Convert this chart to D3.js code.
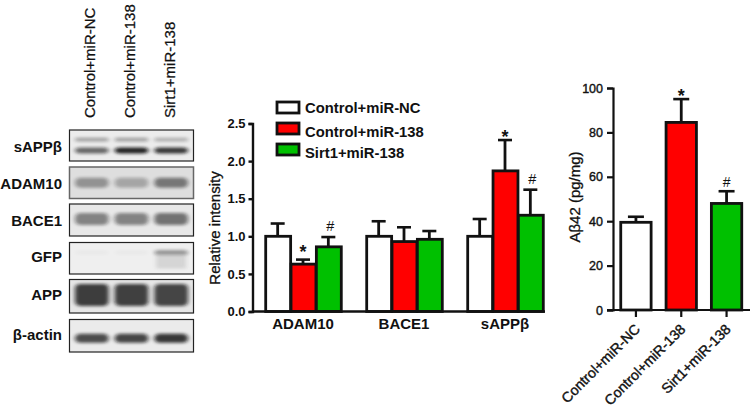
<!DOCTYPE html>
<html><head><meta charset="utf-8">
<script src="https://cdn.jsdelivr.net/npm/d3@7"></script>
<style>html,body{margin:0;padding:0;background:#fff}svg{display:block}text{font-family:"Liberation Sans",Arial,sans-serif;fill:#111}</style>
</head><body><svg id="c" width="752" height="412"></svg>
<script>
const series = ["Control+miR-NC","Control+miR-138","Sirt1+miR-138"];
const seriesColors = ["#ffffff","#ff0000","#00c000"];
const groups = ["ADAM10","BACE1","sAPPβ"];
const adam10Mean = [1.0,0.63,0.86], adam10Top = [1.17,0.69,0.99];
const bace1Mean = [1.0,0.93,0.96], bace1Top = [1.2,1.12,1.07];
const sappMean = [1.0,1.87,1.28], sappTop = [1.23,2.28,1.62];
const relMarkGroups = [["","*","#"],["","",""],["","*","#"]];
const relTicks = [0,0.5,1,1.5,2,2.5];
const abMean = [39.5,84.5,48], abTop = [42,95,53.5];
const abMarks = ["","*","#"];
const abTicks = [0,20,40,60,80,100];
const blotLabels = ["sAPPβ","ADAM10","BACE1","GFP","APP","β-actin"];
const blotBase = ["#ececec","#dedede","#e8e8e8","#efefef","#e6e6e6","#ebebeb"];
const blotMain = [[0.62,0.95,0.85],[0.38,0.28,0.52],[0.48,0.48,0.56],[0.02,0.02,0.4],[0.82,0.8,0.78],[0.75,0.78,0.85]];
const blotUpper = [0.35,0.35,0.28];

const svg = d3.select("#c");
const defs = svg.append("defs");
defs.append("filter").attr("id","b").attr("x","-30%").attr("y","-100%").attr("width","160%").attr("height","300%")
  .append("feGaussianBlur").attr("stdDeviation","2.2 1.6");

// Blot panels
const frames = [[130,161],[167,198.5],[204,236],[242.5,274],[279.5,313],[319.5,352]];
const mainCenter = [.66,.5,.47,.32,.46,.58], mainH = [3,5,6,2.5,11,4.5];
const lane = d3.scaleBand().domain(series).range([70,193]).padding(0.1);
const dark = d3.scaleLinear().domain([0,1]).range([0.0,0.95]);
blotLabels.forEach((name,i)=>{
  const [y0,y1]=frames[i], x0=69.5, x1=193.5;
  defs.append("clipPath").attr("id","p"+i).append("rect").attr("x",x0).attr("y",y0).attr("width",x1-x0).attr("height",y1-y0);
  const g = svg.append("g");
  const inner = g.append("g").attr("clip-path",`url(#p${i})`);
  inner.append("rect").attr("x",x0).attr("y",y0).attr("width",x1-x0).attr("height",y1-y0).attr("fill",blotBase[i]);
  const cy = y0+(y1-y0)*mainCenter[i];
  inner.selectAll(".m").data(blotMain[i]).join("rect")
    .attr("x",(d,k)=>lane(series[k])+1).attr("y",cy-mainH[i]).attr("width",lane.bandwidth()-2).attr("height",2*mainH[i])
    .attr("rx",5).attr("fill","#111").attr("opacity",d=>dark(d)).attr("filter","url(#b)");
  if(i===0){
    inner.selectAll(".u").data(blotUpper).join("rect")
      .attr("x",(d,k)=>lane(series[k])+1).attr("y",y0+(y1-y0)*.31-1.8).attr("width",lane.bandwidth()-2).attr("height",3.6)
      .attr("rx",2).attr("fill","#111").attr("opacity",d=>dark(d)).attr("filter","url(#b)");
  }
  if(i===3){
    inner.append("rect").attr("x",lane(series[2])+3).attr("y",y0+11).attr("width",lane.bandwidth()-6).attr("height",15)
      .attr("fill","#999").attr("opacity",.3).attr("filter","url(#b)");
  }
  g.append("rect").attr("x",x0).attr("y",y0).attr("width",x1-x0).attr("height",y1-y0)
    .attr("fill","none").attr("stroke",i===1?"#666":"#222").attr("stroke-width",i===1?1.5:1.2);
  g.append("text").attr("x",62).attr("y",[152,188.5,226,261.5,300,340][i]).attr("text-anchor","end")
    .attr("font-size",15).attr("font-weight","bold").text(name);
});
series.forEach((s,i)=>{
  svg.append("text").attr("transform",`translate(${[95,135,175][i]},118) rotate(-90)`)
    .attr("font-size",15).attr("stroke","#111").attr("stroke-width",.25).text(s);
});

// Middle chart
const yRel = d3.scaleLinear().domain([0,2.5]).range([311.5,123.5]);
const xGroup = d3.scaleBand().domain(groups).range([252.5,555.5]);
const xSeries = d3.scaleBand().domain(series).range([12.5,88.5]);
const means=[adam10Mean,bace1Mean,sappMean], tops=[adam10Top,bace1Top,sappTop];
const mid = svg.append("g");
groups.forEach((gn,gi)=>{
  const g = mid.append("g").attr("transform",`translate(${xGroup(gn)},0)`);
  series.forEach((s,si)=>{
    const cx = xSeries(s)+xSeries.bandwidth()/2, m=means[gi][si], t=tops[gi][si];
    g.append("line").attr("x1",cx).attr("x2",cx).attr("y1",yRel(m)).attr("y2",yRel(t)).attr("stroke","#111").attr("stroke-width",2.8);
    g.append("line").attr("x1",cx-7).attr("x2",cx+7).attr("y1",yRel(t)).attr("y2",yRel(t)).attr("stroke","#111").attr("stroke-width",2.6);
    g.append("rect").attr("x",xSeries(s)+.7).attr("width",xSeries.bandwidth()-.4).attr("y",yRel(m)).attr("height",yRel(0)-yRel(m))
      .attr("fill",seriesColors[si]).attr("stroke","#111").attr("stroke-width",2.8);
    const mk=relMarkGroups[gi][si];
    if(mk) g.append("text").attr("x",cx+(mk==="#"?2:0)).attr("y",yRel(t)+(mk==="*"?(gi===0?-2:3):-6)).attr("text-anchor","middle")
      .attr("font-size",mk==="*"?18:14.5).attr("font-weight",mk==="*"?"bold":"normal").text(mk);
  });
});
const axL = mid.append("g").attr("transform","translate(252.5,0)")
  .call(d3.axisLeft(yRel).tickValues(relTicks).tickFormat(d3.format(".1f")).tickSize(4).tickPadding(3));
const axB = mid.append("g").attr("transform","translate(0,311.5)")
  .call(d3.axisBottom(xGroup).tickSize(0).tickPadding(7));
[axL,axB].forEach(a=>{a.selectAll("path,line").attr("stroke","#111").attr("stroke-width",2.4);a.selectAll("text").attr("font-size",13).attr("font-weight","bold").attr("fill","#111").attr("font-family",'"Liberation Sans"');});
axB.select("path").attr("d","M252,0H545");
axB.selectAll("text").attr("font-size",15);
svg.append("text").attr("transform","translate(220,228) rotate(-90)").attr("text-anchor","middle").attr("font-size",15).attr("stroke","#111").attr("stroke-width",.3).text("Relative intensity");

// Legend
series.forEach((s,i)=>{
  const y=[102,123,144][i];
  svg.append("rect").attr("x",277).attr("y",y).attr("width",22).attr("height",11).attr("fill",seriesColors[i]).attr("stroke","#111").attr("stroke-width",2.8);
  svg.append("text").attr("x",305).attr("y",[113,137,157.5][i]).attr("font-size",14.8).attr("font-weight","bold").text(s);
});

// Right chart
const yAb = d3.scaleLinear().domain([0,100]).range([310,88]);
const xAb = d3.scaleBand().domain(series).range([613.5,749]).paddingInner(.33).paddingOuter(.16);
const rc = svg.append("g");
series.forEach((s,i)=>{
  const cx=xAb(s)+xAb.bandwidth()/2;
  rc.append("line").attr("x1",cx).attr("x2",cx).attr("y1",yAb(abMean[i])).attr("y2",yAb(abTop[i])).attr("stroke","#111").attr("stroke-width",2.8);
  rc.append("line").attr("x1",cx-8).attr("x2",cx+8).attr("y1",yAb(abTop[i])).attr("y2",yAb(abTop[i])).attr("stroke","#111").attr("stroke-width",2.6);
  rc.append("rect").attr("x",xAb(s)).attr("width",xAb.bandwidth()).attr("y",yAb(abMean[i])).attr("height",yAb(0)-yAb(abMean[i]))
    .attr("fill",seriesColors[i]).attr("stroke","#111").attr("stroke-width",2.8);
  if(abMarks[i]) rc.append("text").attr("x",cx).attr("y",yAb(abTop[i])+(abMarks[i]==="*"?3:-4)).attr("text-anchor","middle")
    .attr("font-size",abMarks[i]==="*"?18:14).attr("font-weight",abMarks[i]==="*"?"bold":"normal").text(abMarks[i]);
});
const axL2 = rc.append("g").attr("transform","translate(613,0)")
  .call(d3.axisLeft(yAb).tickValues(abTicks).tickSize(6).tickPadding(4));
const axB2 = rc.append("g").attr("transform","translate(0,310)")
  .call(d3.axisBottom(xAb).tickSize(7).tickSizeOuter(0).tickPadding(3));
[axL2,axB2].forEach(a=>{a.selectAll("path,line").attr("stroke","#111").attr("stroke-width",2.2);a.selectAll("text").attr("font-size",12.5).attr("fill","#111").attr("font-family",'"Liberation Sans"').attr("stroke","#111").attr("stroke-width",.4);});
axB2.select("path").attr("d","M607,0H750");
axB2.selectAll("text").attr("font-size",14.2).attr("text-anchor","end").attr("dx","0").attr("dy","0")
  .attr("transform","translate(-2,13) rotate(-45)");
svg.append("text").attr("transform","translate(580,197) rotate(-90)").attr("text-anchor","middle").attr("font-size",15).attr("stroke","#111").attr("stroke-width",.3).text("Aβ42 (pg/mg)");
</script></body></html>
